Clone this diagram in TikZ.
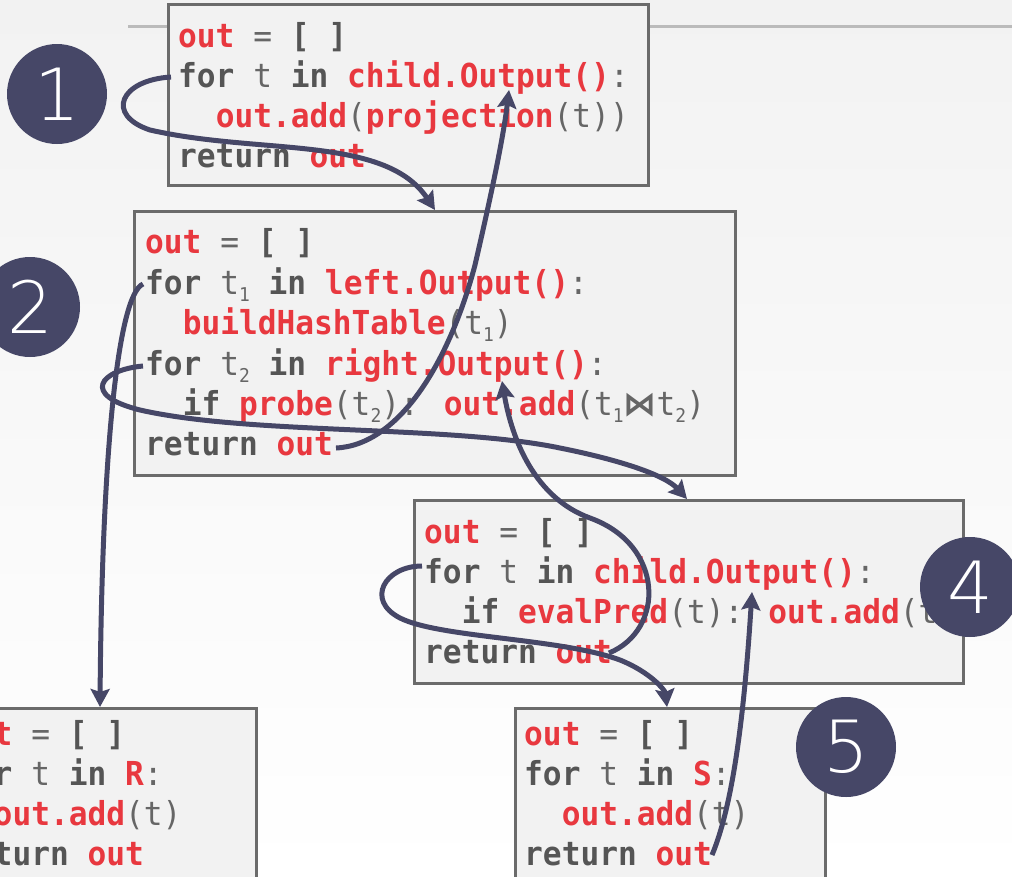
\documentclass[tikz,border=0pt]{standalone}
\usepackage{fontspec}
\usetikzlibrary{arrows.meta}
\newfontfamily\codefont[FakeStretch=0.945]{DejaVu Sans Mono}
\newfontfamily\symfont{DejaVu Sans}
\newfontfamily\numfont{DejaVu Sans}[UprightFont={* ExtraLight}]
\definecolor{codered}{HTML}{E8383F}
\definecolor{codegray}{HTML}{555555}
\definecolor{lightgray}{HTML}{666666}
\definecolor{navy}{HTML}{464767}
\definecolor{boxfill}{HTML}{F2F2F2}
\definecolor{boxline}{HTML}{6B6B6B}
\definecolor{rulegray}{HTML}{BBBBBB}
\newcommand{\Rd}[1]{{\bfseries\color{codered}#1}}
\newcommand{\Kw}[1]{{\bfseries\color{codegray}#1}}
\newcommand{\Sb}[1]{{\fontsize{19}{19}\selectfont\raisebox{-7pt}{#1}}}
\newcommand{\Bowtie}{{\symfont\bfseries ⋈}}
\begin{document}
\begin{tikzpicture}[x=1pt,y=-1pt,
  codebox/.style={draw=boxline,fill=boxfill,line width=3pt},
  codeline/.style={anchor=base west,inner sep=0pt,text=lightgray,
    font=\codefont\fontsize{33}{40}\selectfont},
  flow/.style={draw=navy,line width=5pt,
    -{Stealth[length=18pt,width=19pt,inset=3pt]}},
  badge/.style={circle,fill=navy,minimum size=100pt,inner sep=0pt,
    text=white,font=\numfont\fontsize{72}{72}\selectfont}]
\useasboundingbox (0,0) rectangle (1012,876);
\clip (0,0) rectangle (1012,876);
\shade[top color=boxfill,bottom color=white] (0,0) rectangle (1012,876);
\draw[rulegray,line width=3pt] (128,26) -- (1012,26);

% boxes
\path[codebox] (168,4) rectangle (648,185);
\path[codebox] (134,211) rectangle (735,475);
\path[codebox] (414,500) rectangle (963,683);
\path[codebox] (-60,708) rectangle (256,900);
\path[codebox] (515,708) rectangle (825,900);

% box 1 (projection)
\node[codeline] (p1) at (178,47) {\Rd{out} = \Kw{[ ]}};
\node[codeline] (p2) at (178,87) {\Kw{for} t \Kw{in} \Rd{child.Output()}:};
\node[codeline] (p3) at (178,127) {\phantom{xx}\Rd{out.add}(\Rd{projection}(t))};
\node[codeline] (p4) at (178,167) {\Kw{return} \Rd{out}};

% box 2 (hash join)
\node[codeline] (j1) at (145,253) {\Rd{out} = \Kw{[ ]}};
\node[codeline] (j2) at (145,294) {\Kw{for} t\Sb{1} \Kw{in} \Rd{left.Output()}:};
\node[codeline] (j3) at (145,334) {\phantom{xx}\Rd{buildHashTable}(t\Sb{1})};
\node[codeline] (j4) at (145,375) {\Kw{for} t\Sb{2} \Kw{in} \Rd{right.Output()}:};
\node[codeline] (j5) at (145,415) {\phantom{xx}\Kw{if} \Rd{probe}(t\Sb{2}): \Rd{out.add}(t\Sb{1}\Bowtie t\Sb{2})};
\node[codeline] (j6) at (145,455) {\Kw{return} \Rd{out}};

% box 4 (selection)
\node[codeline] (s1) at (424,543) {\Rd{out} = \Kw{[ ]}};
\node[codeline] (s2) at (424,583) {\Kw{for} t \Kw{in} \Rd{child.Output()}:};
\node[codeline] (s3) at (424,623) {\phantom{xx}\Kw{if} \Rd{evalPred}(t): \Rd{out.add}(t)};
\node[codeline] (s4) at (424,663) {\Kw{return} \Rd{out}};

% box R
\node[codeline] (r1) at (-44,745) {\Rd{out} = \Kw{[ ]}};
\node[codeline] (r2) at (-44,785) {\Kw{for} t \Kw{in} \Rd{R}:};
\node[codeline] (r3) at (-44,825) {\phantom{xx}\Rd{out.add}(t)};
\node[codeline] (r4) at (-44,865) {\Kw{return} \Rd{out}};

% box S
\node[codeline] (q1) at (524,745) {\Rd{out} = \Kw{[ ]}};
\node[codeline] (q2) at (524,785) {\Kw{for} t \Kw{in} \Rd{S}:};
\node[codeline] (q3) at (524,825) {\phantom{xx}\Rd{out.add}(t)};
\node[codeline] (q4) at (524,865) {\Kw{return} \Rd{out}};

% connector end points
\coordinate (aS) at (171,77);
\coordinate (aE) at (435,210);
\coordinate (bS) at (336,448);
\coordinate (bE) at (509,90);
\coordinate (cS) at (143,284);
\coordinate (cE) at (100,707);
\coordinate (dS) at (143,366);
\coordinate (dE) at (687,499);
\coordinate (eS) at (609,653);
\coordinate (eE) at (502,381);
\coordinate (fS) at (422,566);
\coordinate (fE) at (667,707);
\coordinate (gS) at (712,855);
\coordinate (gE) at (752,592);

\draw[flow] (aS) .. controls (120,80) and (105,115) .. (150,130)
  .. controls (260,155) and (385,135) .. (aE);
\draw[flow] (bS) .. controls (400,445) and (450,360) .. (475,265)
  .. controls (490,200) and (503,140) .. (bE);
\draw[flow] (cS) .. controls (118,295) and (102,450) .. (cE);
\draw[flow] (dS) .. controls (100,370) and (80,395) .. (140,410)
  .. controls (250,435) and (450,425) .. (560,448)
  .. controls (620,460) and (665,475) .. (dE);
\draw[flow] (eS) .. controls (665,630) and (665,545) .. (590,518)
  .. controls (535,498) and (512,440) .. (eE);
\draw[flow] (fS) .. controls (385,566) and (365,600) .. (400,618)
  .. controls (440,638) and (560,638) .. (620,660)
  .. controls (650,672) and (665,690) .. (fE);
\draw[flow] (gS) .. controls (735,800) and (745,700) .. (gE);

% step badges
\node[badge] (n1) at (57,94) {1};
\node[badge] (n2) at (30,307) {2};
\node[badge] (n4) at (970,587) {4};
\node[badge] (n5) at (846,747) {5};
\end{tikzpicture}
\end{document}
